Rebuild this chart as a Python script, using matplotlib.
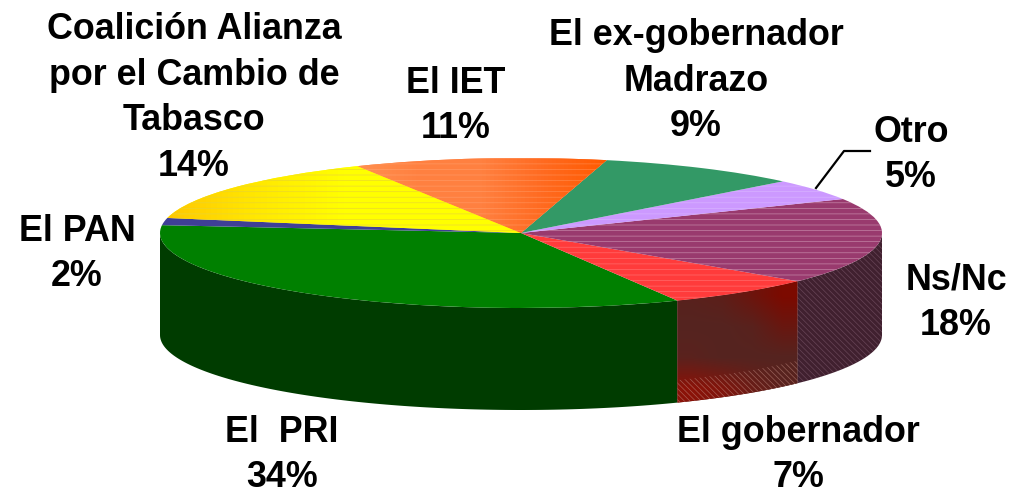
import matplotlib
matplotlib.use('Agg')
import matplotlib.pyplot as plt
from matplotlib.colors import LinearSegmentedColormap
from matplotlib.patches import Rectangle
import numpy as np

plt.rcParams['font.family'] = ['Liberation Sans', 'DejaVu Sans']
plt.rcParams['hatch.linewidth'] = 0.5

names = ['El  PRI', 'El gobernador', 'Ns/Nc', 'Otro', 'El ex-gobernador\nMadrazo', 'El IET',
         'Coalición Alianza\npor el Cambio de\nTabasco', 'El PAN']
# printed labels, and the slice sizes
percent_labels = [34, 7, 18, 5, 9, 11, 14, 2]
shares = [33.8, 6.75, 18.6, 4.6, 9.1, 11.3, 14.3, 1.55]
top_colors = ['#008000', '#ff3b3b', '#993a6e', '#cc99ff', '#339966', '#ff8040', '#ffff00', '#3f3f96']
hatch_colors = [None, '#ffb0b0', '#b9799c', '#e8d4ff', None, '#ffb890', '#d8c000', None]
side_colors = ['#003c00', '#5a2420', '#40202f']

# label centres in pixels
label_x = [282, 798, 956, 911, 696, 456, 194, 77]
label_y = [455, 455, 303, 155, 81, 106, 98, 254]

CX, CY = 521, 233
RX, RY = 361, 75
DEPTH = 102 / RY
START = 174

fig = plt.figure(figsize=(10.15, 4.94), dpi=100)
ax = fig.add_axes([0, 0, 1, 1])

# side wall, only the front half can be seen
scale = 360 / sum(shares)
edges = START + np.cumsum([0] + shares) * scale
side_from = [180, edges[1], edges[2]]
side_to = [edges[1], edges[2], 360]
side_polys = []
for i in range(3):
    t = np.radians(np.linspace(side_from[i], side_to[i], 120))
    xs = np.cos(t)
    ys = np.sin(t)
    poly, = ax.fill(np.r_[xs, xs[::-1]], np.r_[ys, ys[::-1] - DEPTH], color=side_colors[i], lw=0, zorder=1)
    side_polys.append((xs, ys, poly))

# red wall has a patchy gradient
xs, ys, poly = side_polys[1]
red_map = LinearSegmentedColormap.from_list('r', ['#8a1208', '#552420', '#7c0a00'])
red_grid = np.array([[0.55, 0.6, 0.8, 1.0],
                     [0.5, 0.5, 0.55, 0.75],
                     [0.45, 0.5, 0.5, 0.5],
                     [0.0, 0.1, 0.3, 0.45]])
im = ax.imshow(red_grid, cmap=red_map, vmin=0, vmax=1, aspect='auto', interpolation='bilinear',
               extent=[xs.min(), xs.max(), ys.min() - DEPTH, ys.max()], zorder=2)
im.set_clip_path(poly)

# thin diagonal lines on the right walls
xs, ys, poly = side_polys[2]
ax.fill(np.r_[xs, xs[::-1]], np.r_[ys, ys[::-1] - DEPTH], facecolor='none', edgecolor='#b08aa0',
        hatch='\\\\\\\\\\\\', lw=0, alpha=0.35, zorder=3)
xs, ys, poly = side_polys[1]
ax.fill(np.r_[xs, xs[::-1]], np.r_[ys - DEPTH + 0.3, ys[::-1] - DEPTH], facecolor='none', edgecolor='#c08a80',
        hatch='\\\\\\\\\\\\', lw=0, alpha=0.6, zorder=3)

# top face
wedges, _ = ax.pie(shares, colors=top_colors, startangle=START, counterclock=True, radius=1,
                   wedgeprops={'linewidth': 0})
for w in wedges:
    w.set_zorder(4)


def texture(i, color, alpha, clip=None):
    tex, _ = ax.pie([shares[i], sum(shares) - shares[i]], colors=['none', 'none'], radius=1,
                    startangle=edges[i], wedgeprops={'linewidth': 0})
    tex[0].set_facecolor('none')
    tex[0].set_edgecolor(color)
    tex[0].set_hatch('---')
    tex[0].set_zorder(6)
    tex[0].set_alpha(alpha)
    tex[1].set_visible(False)
    if clip is not None:
        tex[0].set_clip_path(Rectangle((clip[0], -2), clip[1] - clip[0], 4, transform=ax.transData))


# dashes change tone at the bands of the original gradient
for i in range(len(shares)):
    if hatch_colors[i] is None:
        continue
    if i == 6:
        texture(i, '#fff080', 0.5, ((160 - CX) / RX, (357 - CX) / RX))
        texture(i, hatch_colors[i], 0.5, ((357 - CX) / RX, 0.2))
    elif i == 2:
        texture(i, hatch_colors[i], 0.35, (-0.2, (845 - CX) / RX))
        texture(i, '#e0b0c8', 0.5, ((845 - CX) / RX, 1.1))
    else:
        texture(i, hatch_colors[i], 0.4)

# edge tints on the top
tints = [(6, ['#ffc800', '#ffe800', '#ffff00', '#ffff00', '#ffff00']),
         (5, ['#ff9050', '#ff8040', '#ff8040', '#ff6a20', '#ff5a00'])]
for i, cols in tints:
    grad = LinearSegmentedColormap.from_list('g' + str(i), cols)
    t = np.radians(np.linspace(edges[i], edges[i + 1], 50))
    left = min(np.cos(t).min(), 0)
    right = max(np.cos(t).max(), 0)
    gim = ax.imshow(np.linspace(0, 1, 64).reshape(1, -1), cmap=grad, aspect='auto',
                    extent=[left, right, -1, 1], zorder=4.5)
    gim.set_clip_path(wedges[i])

ax.set_aspect('auto')
ax.set_xlim(-CX / RX, (1015 - CX) / RX)
ax.set_ylim((CY - 494) / RY, CY / RY)
ax.axis('off')

# leader line for Otro
ax.plot([(816 - CX) / RX, (844 - CX) / RX, (870 - CX) / RX],
        [(CY - 188) / RY, (CY - 151) / RY, (CY - 151) / RY], color='black', lw=1.6, zorder=7)

for i in range(len(names)):
    fig.text(label_x[i] / 1015, 1 - label_y[i] / 494, names[i] + '\n' + str(percent_labels[i]) + '%',
             ha='center', va='center', fontsize=25.8, fontweight='bold', linespacing=1.39, color='black')

fig.savefig('out.png', dpi=100)
